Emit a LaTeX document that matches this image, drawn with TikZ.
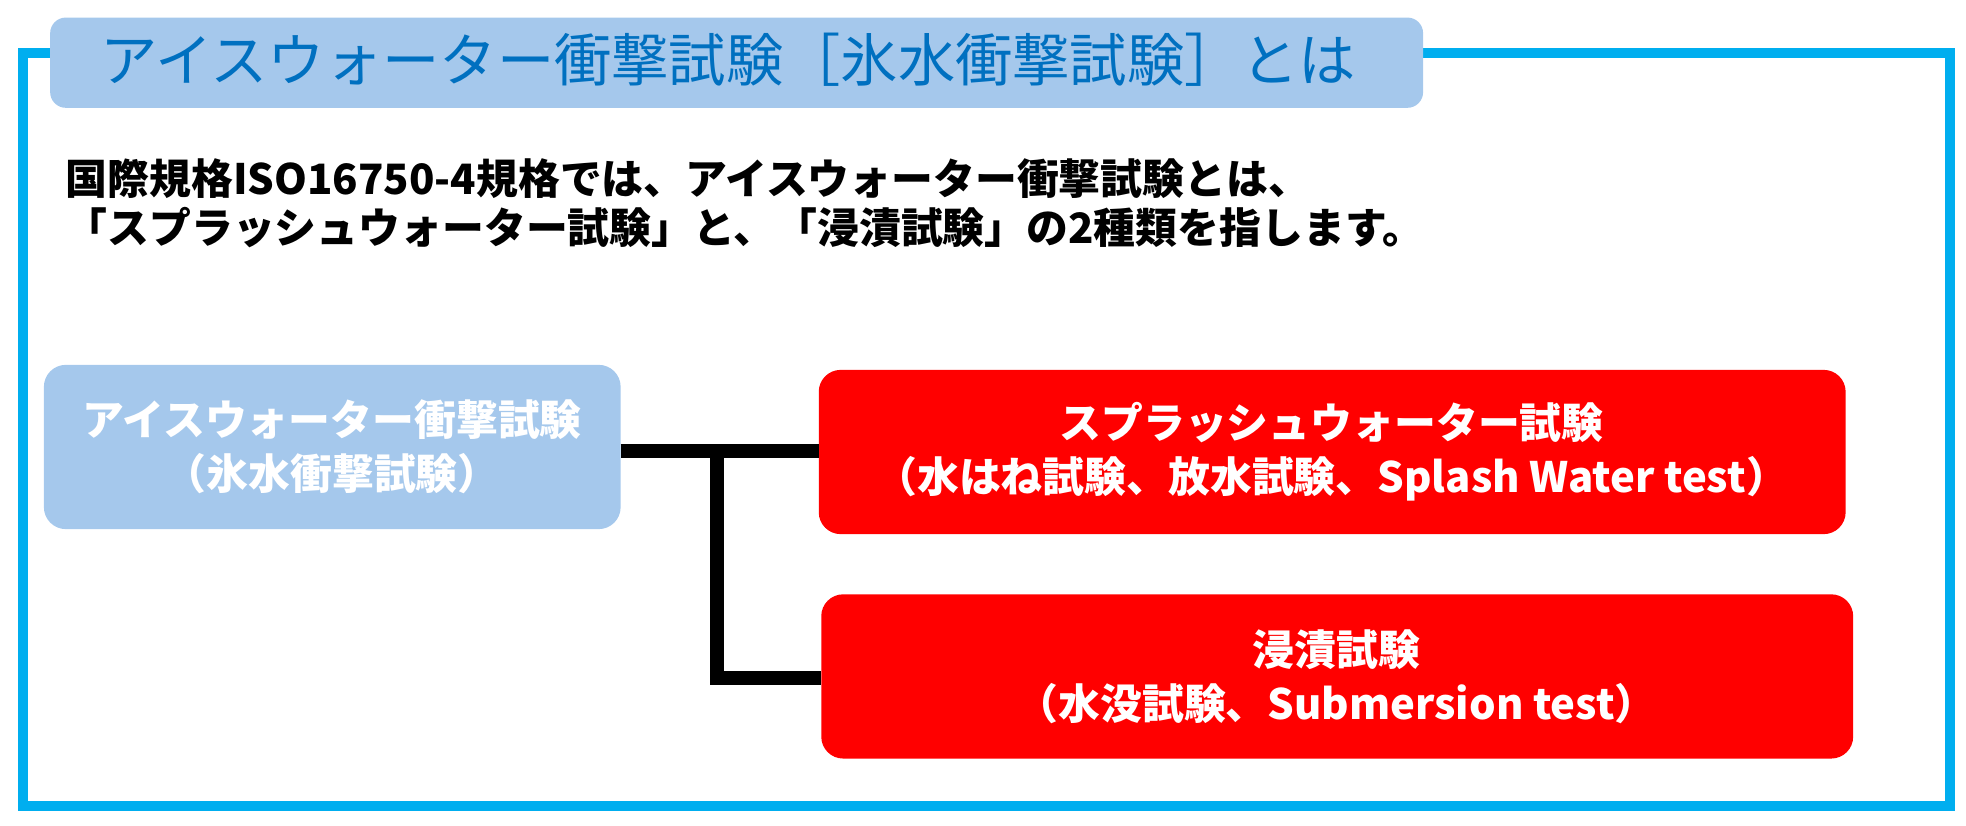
\documentclass[tikz,border=0pt]{standalone}
\usepackage{fontspec}
\setmainfont{Noto Sans CJK JP}
\definecolor{frame}{RGB}{0,174,239}
\definecolor{lblue}{RGB}{165,200,236}
\definecolor{tblue}{RGB}{0,112,192}
\definecolor{bred}{RGB}{255,0,0}
\begin{document}
\begin{tikzpicture}[x=0.02cm,y=-0.02cm,
  box/.style={rounded corners=0.35cm,inner sep=0pt},
  btxt/.style={text=white,font=\bfseries\fontsize{19}{24.5}\selectfont,align=center},
  conn/.style={line width=0.22cm}]
\useasboundingbox (0,0) rectangle (1568,658);
\draw[frame,line width=0.16cm] (18,42) rectangle (1555,643);
\fill[lblue,rounded corners=0.25cm] (40,14) rectangle (1135,86);
\node[anchor=west,text=tblue,font=\fontsize{26}{30}\selectfont,inner sep=0pt] (title) at (80,48) {アイスウォーター衝撃試験［氷水衝撃試験］とは};
\node[anchor=north west,align=left,inner sep=0pt,font=\bfseries\fontsize{19}{22.5}\selectfont] (body) at (52,126)
 {国際規格ISO16750-4規格では、アイスウォーター衝撃試験とは、\\「スプラッシュウォーター試験」と、「浸漬試験」の2種類を指します。};
\fill[lblue,box] (35,291) rectangle (495,422);
\node[btxt] (a) at (265,356) {アイスウォーター衝撃試験\\（氷水衝撃試験）};
\fill[bred,box] (653,295) rectangle (1472,426);
\node[btxt] (b) at (1062,360) {スプラッシュウォーター試験\\（水はね試験、放水試験、Splash Water test）};
\fill[bred,box] (655,474) rectangle (1478,605);
\node[btxt] (c) at (1066,540) {浸漬試験\\（水没試験、Submersion test）};
\coordinate (p1) at (495,360);
\coordinate (p2) at (653,360);
\coordinate (j) at (572,360);
\coordinate (k) at (572,541);
\coordinate (p3) at (655,541);
\draw[conn] (p1) -- (p2);
\draw[conn] (j) -- (k) -- (p3);
\end{tikzpicture}
\end{document}
